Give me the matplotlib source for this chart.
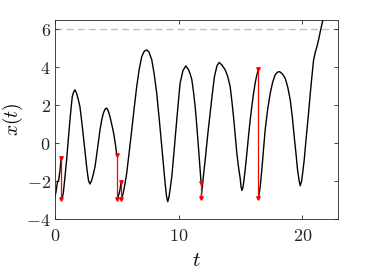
import matplotlib
matplotlib.use("Agg")
import matplotlib.pyplot as plt

plt.rcParams['mathtext.fontset'] = 'cm'
plt.rcParams['font.family'] = ['DejaVu Serif']

# Black trajectory, piecewise between resets (t, x)
seg1_t = [0.0, 0.1, 0.2, 0.3, 0.4, 0.5]
seg1_x = [-2.85, -2.5, -2.05, -1.95, -1.5, -0.8]

seg2_t = [0.5, 0.6, 0.67, 0.8, 0.94, 1.08, 1.21, 1.32, 1.4, 1.52, 1.62, 1.75, 1.88, 2.02, 2.16,
          2.3, 2.43, 2.56, 2.65, 2.72, 2.83, 2.95, 3.08, 3.24, 3.44, 3.64, 3.78, 3.91, 4.05,
          4.18, 4.3, 4.45, 4.58, 4.72, 4.86, 5.0]
seg2_x = [-2.95, -2.85, -2.65, -1.85, -0.9, 0.2, 1.2, 1.95, 2.44, 2.7, 2.79, 2.6, 2.3, 1.9, 1.15,
          0.33, -0.45, -1.25, -1.7, -2.0, -2.16, -2.0, -1.7, -1.25, -0.3, 0.68, 1.2, 1.56, 1.78,
          1.83, 1.7, 1.38, 1.0, 0.6, 0.05, -0.63]

seg3_t = [5.0, 5.1, 5.25, 5.35]
seg3_x = [-2.95, -2.85, -2.5, -2.04]

seg4_t = [5.35, 5.5, 5.65, 5.8, 6.0, 6.21, 6.41, 6.61, 6.82, 7.02, 7.22, 7.42, 7.6, 7.83, 8.03,
          8.23, 8.44, 8.64, 8.78, 8.91, 9.02, 9.12, 9.22, 9.33, 9.45, 9.65, 9.85, 10.0, 10.12,
          10.35, 10.58, 10.8, 10.95, 11.07, 11.2, 11.34, 11.47, 11.6, 11.82]
seg4_x = [-2.95, -2.7, -2.2, -1.6, -0.5, 0.68, 1.85, 2.96, 3.9, 4.54, 4.82, 4.89, 4.78, 4.37, 3.6,
          2.6, 1.2, -0.2, -1.2, -2.12, -2.8, -3.09, -2.85, -2.35, -1.77, -0.3, 1.21, 2.3, 3.14,
          3.8, 4.05, 3.85, 3.6, 3.32, 2.7, 1.91, 0.9, -0.19, -2.12]

seg5_t = [11.82, 11.98, 12.15, 12.35, 12.55, 12.73, 12.9, 13.1, 13.28, 13.5, 13.77, 13.97, 14.17,
          14.3, 14.44, 14.58, 14.71, 14.85, 14.98, 15.05, 15.12, 15.2, 15.28, 15.38, 15.52, 15.65,
          15.78, 15.92, 16.05, 16.19, 16.32, 16.46]
seg5_x = [-2.91, -1.9, -0.89, 0.4, 1.56, 2.6, 3.49, 4.05, 4.23, 4.1, 3.84, 3.5, 2.96,
          2.25, 1.38, 0.4, -0.54, -1.3, -1.86, -2.3, -2.5, -2.35, -2.0, -1.42, -0.55, 0.33,
          1.15, 1.91, 2.55, 3.14, 3.55, 3.88]

seg6_t = [16.46, 16.6, 16.73, 16.86, 17.0, 17.2, 17.41, 17.61, 17.81, 18.0, 18.17, 18.4, 18.62,
          18.82, 19.03, 19.2, 19.35, 19.5, 19.62, 19.75, 19.84, 19.95, 20.05, 20.16, 20.33, 20.51,
          20.65, 20.78, 20.92, 21.05, 21.19, 21.33, 21.46, 21.67, 21.8]
seg6_x = [-2.91, -2.3, -1.42, -0.4, 0.68, 1.75, 2.61, 3.2, 3.58, 3.72, 3.75, 3.62, 3.4,
          2.95, 2.26, 1.35, 0.33, -0.6, -1.42, -2.0, -2.25, -2.0, -1.5, -0.89, 0.35, 1.56,
          2.6, 3.49, 4.37, 4.75, 5.07, 5.45, 5.86, 6.47, 6.9]

segments = [(seg1_t, seg1_x), (seg2_t, seg2_x), (seg3_t, seg3_x),
            (seg4_t, seg4_x), (seg5_t, seg5_x), (seg6_t, seg6_x)]

# Red reset jumps: time, value before, value after
jump_t = [0.5, 5.0, 5.35, 11.82, 16.46]
jump_from = [-0.8, -0.63, -2.04, -2.12, 3.88]
jump_to = [-2.95, -2.95, -2.95, -2.91, -2.91]

threshold = 6

x_ticks = [0, 10, 20]
y_ticks = [-4, -2, 0, 2, 4, 6]

fig = plt.figure(figsize=(3.74, 2.8), dpi=100)
ax = fig.add_axes([0.147, 0.218, 0.757, 0.711])

ax.axhline(threshold, color='#c0c0c0', linestyle=(0, (5, 3)), linewidth=1.0, zorder=1)

for st, sx in segments:
    ax.plot(st, sx, color='black', linewidth=1.0, zorder=2)

for jt, jf, jto in zip(jump_t, jump_from, jump_to):
    ax.plot([jt, jt], [jf, jto], color='red', linewidth=0.9, marker='v',
            markersize=2.5, zorder=3)

ax.set_xlim(0, 22.9)
ax.set_ylim(-4, 6.47)
ax.set_xticks(x_ticks)
ax.set_yticks(y_ticks)
ax.set_xticklabels([f'${v}$' for v in x_ticks])
ax.set_yticklabels([f'${v}$' for v in y_ticks])

for s in ax.spines.values():
    s.set_color('#262626')
    s.set_linewidth(0.6)
ax.tick_params(direction='in', top=True, right=True, length=3, width=0.6,
               color='#262626', labelsize=13, labelcolor='#262626')
ax.tick_params(axis='x', pad=6)
ax.tick_params(axis='y', pad=3)

ax.set_xlabel('$t$', fontsize=15, labelpad=4)
ax.set_ylabel('$x(t)$', fontsize=14, labelpad=1)

fig.savefig('out.png', dpi=100)
